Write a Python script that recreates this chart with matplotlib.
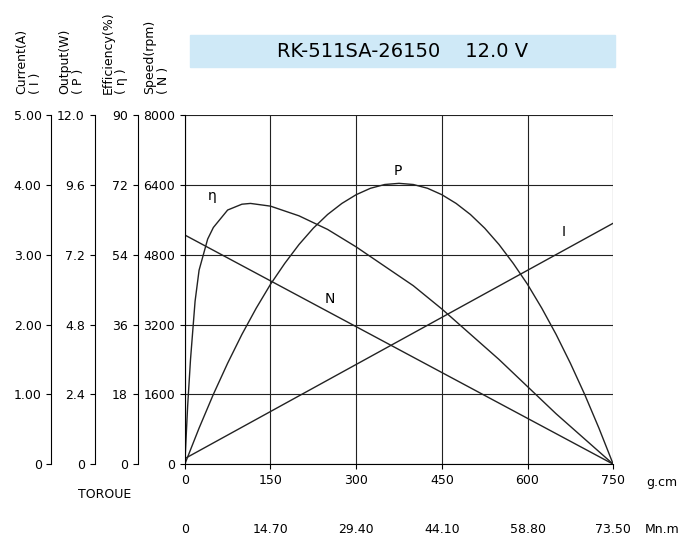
import matplotlib.pyplot as plt
import numpy as np

# torque in g.cm
torque_ticks = [0, 150, 300, 450, 600, 750]
mnm_labels = ["0", "14.70", "29.40", "44.10", "58.80", "73.50"]

# speed (rpm), straight line
n_torque = [0, 750]
n_speed = [5250, 0]

# current (A)
i_torque = [0, 750]
i_amp = [0.08, 3.45]

# output (W)
p_torque = [0, 25, 50, 75, 100, 125, 150, 175, 200, 225, 250, 275, 300, 325, 350, 375,
            400, 425, 450, 475, 500, 525, 550, 575, 600, 625, 650, 675, 700, 725, 750]
p_watt = [0, 1.24, 2.40, 3.47, 4.46, 5.36, 6.18, 6.90, 7.55, 8.11, 8.58, 8.96, 9.26, 9.48, 9.61, 9.65,
          9.61, 9.48, 9.26, 8.96, 8.58, 8.11, 7.55, 6.90, 6.18, 5.36, 4.46, 3.47, 2.40, 1.24, 0]

# efficiency (%)
e_torque = [0, 5, 10, 18, 25, 40, 50, 75, 100, 115, 150, 200, 250, 300, 350, 400, 450, 500, 550, 600, 650, 700, 750]
e_pct = [0, 15, 27, 42, 50, 58, 61, 65.5, 67, 67.2, 66.5, 64, 60.5, 56, 51, 46, 40, 33.5, 27, 20, 13, 6.5, 0]

fig = plt.figure(figsize=(7, 5.5), dpi=100)
ax = fig.add_axes([0.264, 0.156, 0.612, 0.635])
ax.set_xlim(0, 750)
ax.set_ylim(0, 8000)

ax.plot(n_torque, n_speed, color="#222", lw=1)
ax.plot(i_torque, np.array(i_amp) * 1600, color="#222", lw=1)
ax.plot(p_torque, np.array(p_watt) / 12 * 8000, color="#222", lw=1)
ax.plot(e_torque, np.array(e_pct) / 90 * 8000, color="#222", lw=1)

ax.text(40, 6050, "η", fontsize=10)
ax.text(365, 6620, "P", fontsize=10)
ax.text(245, 3700, "N", fontsize=10)
ax.text(660, 5220, "I", fontsize=10)

ax.set_xticks(torque_ticks)
ax.set_yticks(range(0, 8001, 1600))
ax.grid(True, color="#222", lw=0.8)
for s in ["top", "right"]:
    ax.spines[s].set_visible(False)
ax.tick_params(labelsize=9)

def side_axis(offset, top, ticks, labels):
    a = ax.twinx()
    a.set_ylim(0, top)
    for s in ["top", "right", "bottom"]:
        a.spines[s].set_visible(False)
    a.spines["left"].set_position(("outward", offset))
    a.yaxis.set_ticks_position("left")
    a.yaxis.set_label_position("left")
    a.set_yticks(ticks)
    a.set_yticklabels(labels)
    a.tick_params(labelsize=9)
    return a

side_axis(34, 90, [0, 18, 36, 54, 72, 90], ["0", "18", "36", "54", "72", "90"])
side_axis(65, 12, [0, 2.4, 4.8, 7.2, 9.6, 12], ["0", "2.4", "4.8", "7.2", "9.6", "12.0"])
side_axis(96, 5, [0, 1, 2, 3, 4, 5], ["0", "1.00", "2.00", "3.00", "4.00", "5.00"])

# second torque axis (mN.m)
for x, lab in zip(torque_ticks, mnm_labels):
    ax.text(x, -1500, lab, ha="center", va="center", fontsize=9)
ax.text(835, -420, "g.cm", ha="center", va="center", fontsize=9)
ax.text(835, -1500, "Mn.m", ha="center", va="center", fontsize=9)
ax.text(-140, -700, "TOROUE", ha="center", va="center", fontsize=9)

# axis headers
heads = [(0.022, "Current(A)\n( I )"), (0.083, "Output(W)\n( P )"),
         (0.145, "Efficiency(%)\n( η )"), (0.205, "Speed(rpm)\n( N )")]
for x, t in heads:
    fig.text(x, 0.83, t, rotation=90, ha="left", va="bottom", fontsize=9,
             linespacing=1.1)

# title box
fig.patches.append(plt.Rectangle((0.271, 0.878), 0.608, 0.058, transform=fig.transFigure,
                                 color="#cfe9f7", zorder=0))
fig.text(0.575, 0.907, "RK-511SA-26150    12.0 V", ha="center", va="center", fontsize=14)

fig.savefig("out.png")
